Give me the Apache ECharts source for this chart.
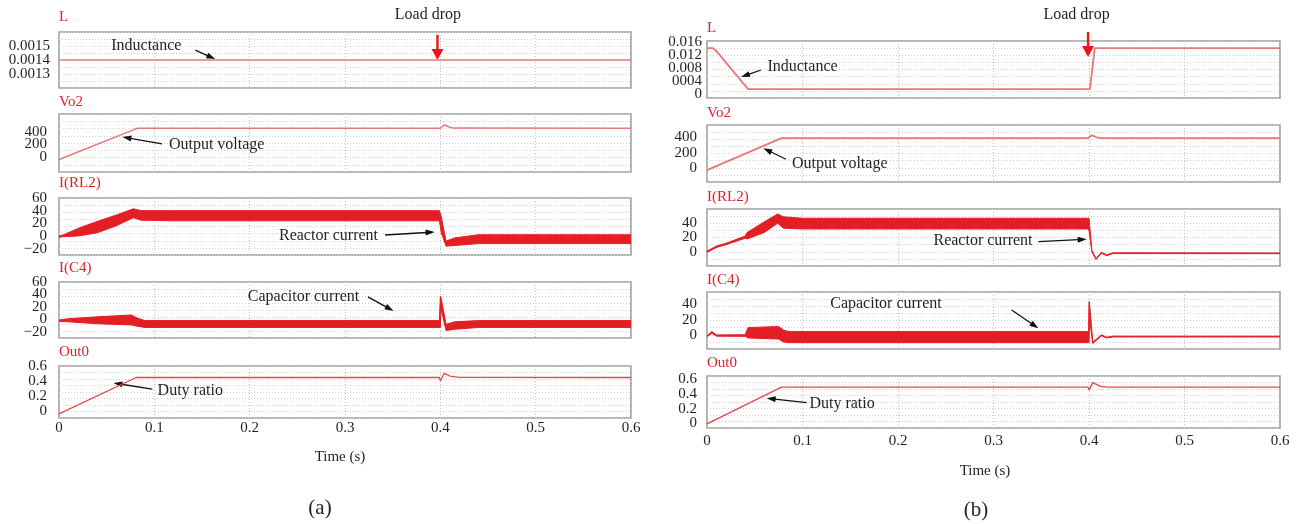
<!DOCTYPE html>
<html>
<head>
<meta charset="utf-8">
<script src="https://cdn.jsdelivr.net/npm/echarts@6/dist/echarts.min.js"></script>
<style>
  html, body { margin: 0; background: #fff; }
  #chart { width: 1308px; height: 524px; }
</style>
</head>
<body>
<div id="chart"></div>
<script>
// ---- data (time in s) ----
const timeTicks = [0, 0.1, 0.2, 0.3, 0.4, 0.5, 0.6];

// (a)
const aLTime = [0, 0.6];
const aLValue = [0.0014, 0.0014];
const aVoTime = [0, 0.082, 0.4, 0.404, 0.408, 0.413, 0.6];
const aVoValue = [-45, 466, 466, 520, 495, 470, 466];
const aIrlTime = [0, 0.005, 0.02, 0.04, 0.06, 0.078, 0.086, 0.12, 0.399, 0.401, 0.406, 0.415, 0.44, 0.6];
const aIrlLow = [-2, -1, 0, 5, 16, 29, 25, 24, 24, 5, -16, -15, -12, -12];
const aIrlHigh = [0, 2, 12, 23, 33, 43, 40, 40, 40, 30, -8, -3, 2, 2];
const aIcTime = [0, 0.01, 0.04, 0.076, 0.082, 0.09, 0.399, 0.4, 0.4006, 0.406, 0.415, 0.44, 0.6];
const aIcLow = [-3, -4, -7, -9, -11, -13, -13, -13, 18, -18, -16, -13, -13];
const aIcHigh = [-1, 1, 4, 7, 2, -2, -2, 37, 36, -8, -4, -2, -2];
const aOutTime = [0, 0.081, 0.399, 0.4, 0.404, 0.41, 0.42, 0.6];
const aOutValue = [-0.045, 0.445, 0.445, 0.4, 0.5, 0.465, 0.448, 0.445];

// (b)
const bLTime = [0, 0.006, 0.009, 0.043, 0.401, 0.406, 0.6];
const bLValue = [0.014, 0.014, 0.0134, 0.0015, 0.0015, 0.014, 0.014];
const bVoTime = [0, 0.078, 0.399, 0.403, 0.408, 0.412, 0.6];
const bVoValue = [-20, 385, 385, 420, 395, 386, 385];
const bIrlTime = [0, 0.01, 0.02, 0.04, 0.042, 0.06, 0.074, 0.08, 0.1, 0.399, 0.4, 0.403, 0.4073, 0.413, 0.4185, 0.425, 0.6];
const bIrlLow = [-1, 6, 10, 19, 18, 27, 40, 33, 32, 32, 30, 0, -11, -2, -5.5, -2.5, -2.7];
const bIrlHigh = [1, 8, 12, 22, 27, 42, 53, 49, 47, 47, 47, 2, -9.5, -0.8, -4.3, -1.5, -1.7];
const bIcTime = [0, 0.005, 0.01, 0.04, 0.043, 0.075, 0.08, 0.085, 0.3995, 0.4, 0.4006, 0.404, 0.413, 0.4185, 0.425, 0.6];
const bIcLow = [-1.5, 3, -0.8, -1, -3, -4.5, -8, -9, -9, -9, 20, -10, -0.3, -3, -1.8, -1.8];
const bIcHigh = [-0.5, 5, 0.8, 1, 10, 11.5, 7, 5, 5, 43, 40, -8.5, 1, -2, -0.8, -0.8];
const bOutTime = [0, 0.078, 0.399, 0.4, 0.404, 0.412, 0.42, 0.6];
const bOutValue = [-0.005, 0.49, 0.49, 0.45, 0.55, 0.5, 0.49, 0.49];

// y tick labels
const aLTicks = [0.0013, 0.0014, 0.0015];
const aLTickText = ['0.0013', '0.0014', '0.0015'];
const voTicks = [0, 200, 400];
const voTickText = ['0', '200', '400'];
const aCurTicks = [-20, 0, 20, 40, 60];
const aCurTickText = ['\u221220', '0', '20', '40', '60'];
const bCurTicks = [0, 20, 40];
const bCurTickText = ['0', '20', '40'];
const outTicks = [0, 0.2, 0.4, 0.6];
const outTickText = ['0', '0.2', '0.4', '0.6'];
const bLTicks = [0, 0.004, 0.008, 0.012, 0.016];
const bLTickText = ['0', '0004', '0.008', '0.012', '0.016'];

const FONT = 'Liberation Serif, DejaVu Serif, Times New Roman, serif';
const RED = '#e31e24';
const PINK = '#e8777a';
const TEXT = '#231f20';

const panels = [
  { name: 'L', left: 59, top: 32, height: 56, min: 0.0012, max: 0.0016, step: 0.00005, ticks: aLTicks, text: aLTickText, margin: 9, nameGap: 15 },
  { name: 'Vo2', left: 59, top: 114, height: 58, min: -250, max: 700, step: 50, ticks: voTicks, text: voTickText, margin: 12, nameGap: 12 },
  { name: 'I(RL2)', left: 59, top: 198, height: 57, min: -30, max: 60, step: 10, ticks: aCurTicks, text: aCurTickText, margin: 12, nameGap: 15 },
  { name: 'I(C4)', left: 59, top: 282, height: 56, min: -30, max: 60, step: 10, ticks: aCurTicks, text: aCurTickText, margin: 12, nameGap: 14 },
  { name: 'Out0', left: 59, top: 366, height: 52, min: -0.1, max: 0.6, step: 0.1, ticks: outTicks, text: outTickText, margin: 12, nameGap: 14, bottom: true, xMargin: 3 },
  { name: 'L', left: 707, top: 41, height: 57, min: -0.0012, max: 0.0162, step: 0.0004, ticks: bLTicks, text: bLTickText, margin: 5, nameGap: 13 },
  { name: 'Vo2', left: 707, top: 125, height: 57, min: -170, max: 550, step: 10, ticks: voTicks, text: voTickText, margin: 10, nameGap: 12 },
  { name: 'I(RL2)', left: 707, top: 209, height: 57, min: -20, max: 60, step: 10, ticks: bCurTicks, text: bCurTickText, margin: 10, nameGap: 12 },
  { name: 'I(C4)', left: 707, top: 292, height: 57, min: -17, max: 55, step: 1, ticks: bCurTicks, text: bCurTickText, margin: 10, nameGap: 12 },
  { name: 'Out0', left: 707, top: 376, height: 52, min: -0.06, max: 0.64, step: 0.02, ticks: outTicks, text: outTickText, margin: 10, nameGap: 13, bottom: true, xMargin: 6 },
];

function pairs(t, v) { return t.map((x, i) => [x, v[i]]); }

function lineSeries(p, t, v, color, width) {
  return {
    type: 'line', xAxisIndex: p, yAxisIndex: 2 * p, data: pairs(t, v),
    symbol: 'none', silent: true, lineStyle: { color, width },
  };
}

// switching ripple drawn as a filled envelope between the low and high traces
function bandSeries(p, t, lo, hi) {
  return {
    type: 'custom', xAxisIndex: p, yAxisIndex: 2 * p, silent: true, clip: true,
    data: t.map((x, i) => [x, lo[i], hi[i]]),
    encode: { x: 0, y: [1, 2] },
    renderItem: (params, api) => {
      if (params.dataIndex !== 0) return null;
      const pts = [];
      for (let i = 0; i < t.length; i++) pts.push(api.coord([t[i], hi[i]]));
      for (let i = t.length - 1; i >= 0; i--) pts.push(api.coord([t[i], lo[i]]));
      return {
        type: 'polygon', shape: { points: pts },
        style: { fill: RED, stroke: RED, lineWidth: 1 },
      };
    },
  };
}

const series = [
  lineSeries(0, aLTime, aLValue, PINK, 1.3),
  lineSeries(1, aVoTime, aVoValue, PINK, 1.4),
  bandSeries(2, aIrlTime, aIrlLow, aIrlHigh),
  bandSeries(3, aIcTime, aIcLow, aIcHigh),
  lineSeries(4, aOutTime, aOutValue, '#e4474c', 1.3),
  lineSeries(5, bLTime, bLValue, PINK, 1.8),
  lineSeries(6, bVoTime, bVoValue, PINK, 1.8),
  bandSeries(7, bIrlTime, bIrlLow, bIrlHigh),
  bandSeries(8, bIcTime, bIcLow, bIcHigh),
  lineSeries(9, bOutTime, bOutValue, '#e4474c', 1.4),
];

const grid = panels.map(p => ({
  left: p.left, top: p.top, height: p.height, width: p.left < 300 ? 572 : 573,
  show: true, backgroundColor: '#fff', borderColor: '#9e9e9e', borderWidth: 1.6,
  outerBoundsMode: 'none',
}));

const xAxis = panels.map((p, i) => ({
  type: 'value', gridIndex: i, min: 0, max: 0.6, interval: 0.1,
  axisLine: { show: false }, axisTick: { show: false },
  axisLabel: {
    show: !!p.bottom, margin: p.xMargin || 4, color: TEXT, fontFamily: FONT, fontSize: 15,
    formatter: v => { const k = timeTicks.findIndex(x => Math.abs(x - v) < 1e-6); return k < 0 ? '' : String(timeTicks[k]); },
  },
  splitLine: { show: true, lineStyle: { color: '#c2c2c2', type: [1, 2], width: 1 } },
}));

const yAxis = [];
panels.forEach((p, i) => {
  yAxis.push({
    type: 'value', gridIndex: i, min: p.min, max: p.max, interval: p.step,
    name: p.name, nameLocation: 'end', nameGap: p.nameGap,
    nameTextStyle: { color: RED, fontFamily: FONT, fontSize: 15, align: 'left', verticalAlign: 'middle' },
    axisLine: { show: false }, axisTick: { show: false }, splitLine: { show: false },
    axisLabel: {
      margin: p.margin, color: TEXT, fontFamily: FONT, fontSize: 15,
      formatter: v => { const k = p.ticks.findIndex(x => Math.abs(x - v) < p.step * 0.01); return k < 0 ? '' : p.text[k]; },
    },
  });
  // dotted horizontal grid of the simulator plot
  yAxis.push({
    type: 'value', gridIndex: i, min: 0, max: 8, interval: 1,
    axisLine: { show: false }, axisTick: { show: false }, axisLabel: { show: false },
    splitLine: { show: true, lineStyle: { color: '#cdcdcd', type: [1, 2], width: 1 } },
  });
});

const chart = echarts.init(document.getElementById('chart'), null, { renderer: 'canvas' });
chart.setOption({ animation: false, backgroundColor: '#fff', grid, xAxis, yAxis, series });

// annotations, placed in data coordinates of each panel
const notes = [
  { panel: 0, text: 'Inductance', at: [0.0916, 0.0015], from: [0.143, 0.00147], to: [0.164, 0.001407] },
  { panel: 1, text: 'Output voltage', at: [0.1654, 192], from: [0.108, 209], to: [0.0665, 323] },
  { panel: 2, text: 'Reactor current', at: [0.2827, 0], from: [0.342, 1.6], to: [0.394, 6.3] },
  { panel: 3, text: 'Capacitor current', at: [0.2565, 36], from: [0.324, 36], to: [0.351, 13.4] },
  { panel: 4, text: 'Duty ratio', at: [0.1377, 0.2635], from: [0.0979, 0.29], to: [0.0571, 0.371] },
  { panel: 5, text: 'Inductance', at: [0.1, 0.00826], from: [0.0565, 0.00735], to: [0.0356, 0.00523] },
  { panel: 6, text: 'Output voltage', at: [0.139, 57], from: [0.0827, 117], to: [0.059, 256] },
  { panel: 7, text: 'Reactor current', at: [0.289, 15.5], from: [0.347, 14.1], to: [0.3976, 17.5] },
  { panel: 8, text: 'Capacitor current', at: [0.1874, 39.5], from: [0.319, 32.3], to: [0.347, 9.2] },
  { panel: 9, text: 'Duty ratio', at: [0.1414, 0.263], from: [0.1044, 0.281], to: [0.0625, 0.34] },
];
const loadDrops = [
  { panel: 0, at: [0.387, 0.00172], from: [0.397, 0.00158], to: [0.397, 0.0014] },
  { panel: 5, at: [0.387, 0.02414], from: [0.399, 0.01895], to: [0.399, 0.01132] },
];

function px(panel, v) {
  return chart.convertToPixel({ xAxisIndex: panel, yAxisIndex: 2 * panel }, v);
}

function arrow(p0, p1, color, width, headLen, headW) {
  const dx = p1[0] - p0[0], dy = p1[1] - p0[1];
  const len = Math.hypot(dx, dy), ux = dx / len, uy = dy / len;
  const bx = p1[0] - ux * headLen, by = p1[1] - uy * headLen;
  return [
    { type: 'line', silent: true, shape: { x1: p0[0], y1: p0[1], x2: bx + ux, y2: by + uy }, style: { stroke: color, lineWidth: width } },
    { type: 'polygon', silent: true, shape: { points: [p1, [bx - uy * headW / 2, by + ux * headW / 2], [bx + uy * headW / 2, by - ux * headW / 2]] }, style: { fill: color } },
  ];
}

function label(text, x, y, size) {
  return { type: 'text', silent: true, x, y, style: { text, fill: TEXT, font: size + 'px ' + FONT, align: 'center', verticalAlign: 'middle' } };
}

const graphic = [];
notes.forEach(n => {
  const a = px(n.panel, n.at);
  graphic.push(label(n.text, a[0], a[1], 16));
  graphic.push(...arrow(px(n.panel, n.from), px(n.panel, n.to), '#111', 1.3, 9, 6));
});
loadDrops.forEach(n => {
  const a = px(n.panel, n.at);
  graphic.push(label('Load drop', a[0], a[1], 16));
  graphic.push(...arrow(px(n.panel, n.from), px(n.panel, n.to), '#e8161c', 2.4, 11, 12));
});
graphic.push(label('Time (s)', 340, 457, 15));
graphic.push(label('(a)', 320, 508, 21));
graphic.push(label('Time (s)', 985, 471, 15));
graphic.push(label('(b)', 976, 510, 21));

chart.setOption({ graphic });
</script>
</body>
</html>
